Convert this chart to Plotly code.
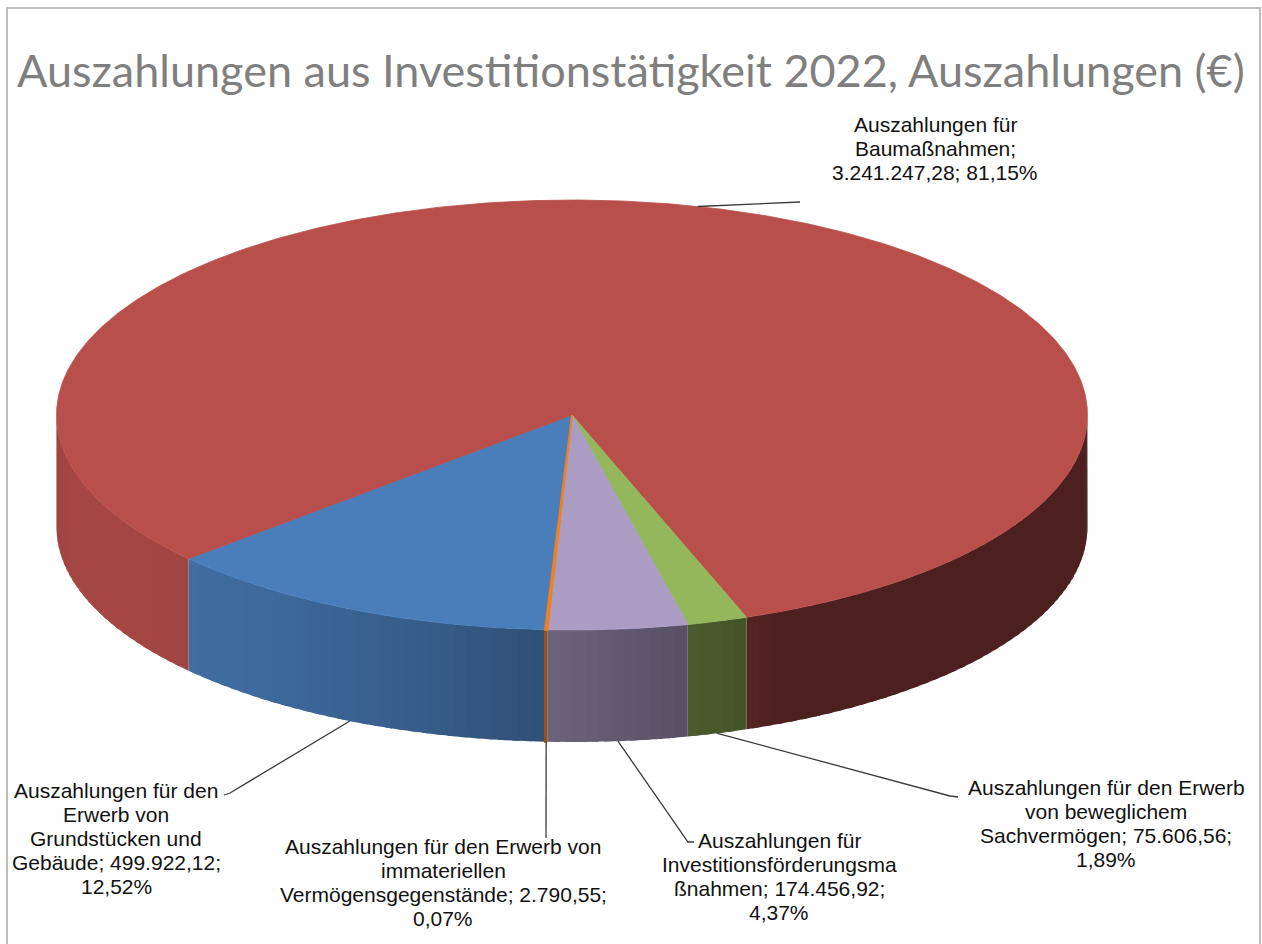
import math
import plotly.graph_objects as go

# ---------------- data ----------------
categories = [
    "Auszahlungen für den Erwerb von Grundstücken und Gebäude",
    "Auszahlungen für Baumaßnahmen",
    "Auszahlungen für den Erwerb von beweglichem Sachvermögen",
    "Auszahlungen für Investitionsförderungsmaßnahmen",
    "Auszahlungen für den Erwerb von immateriellen Vermögensgegenstände",
]
values = [499922.12, 3241247.28, 75606.56, 174456.92, 2790.55]
# wrapped label names (as wrapped in the chart, "|" = line break)
label_names = [
    "Auszahlungen für den|Erwerb von|Grundstücken und|Gebäude",
    "Auszahlungen für|Baumaßnahmen",
    "Auszahlungen für den Erwerb|von beweglichem|Sachvermögen",
    "Auszahlungen für|Investitionsförderungsma|ßnahmen",
    "Auszahlungen für den Erwerb von|immateriellen|Vermögensgegenstände",
]
value_sep = [" ", "|", " ", " ", " "]
pct_sep = ["|", " ", "|", "|", "|"]
title_text = "Auszahlungen aus Investitionstätigkeit 2022, Auszahlungen (€)"

# ---------------- styles / layout ----------------
top_colors = [(74, 126, 187), (185, 79, 75), (147, 183, 90), (171, 156, 196), (240, 128, 31)]
label_pos = [(116, 790), (935, 124), (1106, 787), (779, 840), (443, 846)]
leader_anchor = ["bottom", "top", "bottom", "bottom", "bottom"]
leader_ends = [
    [(230, 793), (224, 795)],
    [(800, 202)],
    [(950, 796), (958, 797)],
    [(688, 842), (694, 842)],
    [(546, 838)],
]
W, H = 1262, 944
CX, CY, RX, RY, DEPTH = 572.0, 415.0, 515.5, 215.0, 112.0
START = 183.0
LINE_H = 24.2


def pt(theta, dy=0.0):
    t = math.radians(theta)
    return CX + RX * math.sin(t), CY - RY * math.cos(t) + dy


def shade(rgb, theta):
    f = 0.41 + 0.48 * max(0.0, math.cos(math.radians(theta - 245.0)))
    return "rgb(%d,%d,%d)" % tuple(int(round(c * f)) for c in rgb)


def de_num(v):
    s = f"{v:,.2f}"
    return s.replace(",", "X").replace(".", ",").replace("X", ".")


total = sum(values)
spans = [v / total * 360.0 for v in values]
bounds = []
a = START
for s in spans:
    bounds.append((a, a + s))
    a += s

fig = go.Figure()

# ---- side walls (front half only), shaded by angle ----
STEP = 1.5
for i, (a0, a1) in enumerate(bounds):
    n = max(1, int(math.ceil((a1 - a0) / STEP)))
    for k in range(n):
        t0 = a0 + (a1 - a0) * k / n
        t1 = a0 + (a1 - a0) * (k + 1) / n
        mid = ((t0 + t1) / 2.0) % 360.0
        if not (90.0 <= mid <= 270.0):
            continue
        # overlap into the next strip of the same slice to hide seams
        t1e = min(a1, t1 + 0.8)
        m = 4
        xs, ys = [], []
        for j in range(m + 1):
            x, y = pt(t0 + (t1e - t0) * j / m)
            xs.append(x); ys.append(y)
        for j in range(m, -1, -1):
            x, y = pt(t0 + (t1e - t0) * j / m, DEPTH)
            xs.append(x); ys.append(y)
        col = shade(top_colors[i], mid)
        lw = 2.0 if i == 4 else 0
        fig.add_trace(go.Scatter(
            x=xs, y=ys, mode="lines", fill="toself", fillcolor=col,
            line=dict(color=col, width=lw), hoverinfo="skip", showlegend=False))

# ---- top faces ----
for i, (a0, a1) in enumerate(bounds):
    n = max(2, int(math.ceil((a1 - a0) / 0.5)))
    xs, ys = [CX], [CY]
    for j in range(n + 1):
        x, y = pt(a0 + (a1 - a0) * j / n)
        xs.append(x); ys.append(y)
    xs.append(CX); ys.append(CY)
    col = "rgb(%d,%d,%d)" % top_colors[i]
    lw = 2.0 if i == 4 else 0.8
    fig.add_trace(go.Scatter(
        x=xs, y=ys, mode="lines", fill="toself", fillcolor=col,
        line=dict(color=col, width=lw), name=categories[i],
        text=f"{categories[i]}: {de_num(values[i])}", hoverinfo="text",
        showlegend=False))

# ---- leader lines and labels ----
for i, (a0, a1) in enumerate(bounds):
    mid = (a0 + a1) / 2.0
    sx, sy = pt(mid, DEPTH if leader_anchor[i] == "bottom" else 0.0)
    xs = [sx] + [p[0] for p in leader_ends[i]]
    ys = [sy] + [p[1] for p in leader_ends[i]]
    fig.add_trace(go.Scatter(x=xs, y=ys, mode="lines",
                             line=dict(color="#3a3a3a", width=1.3),
                             hoverinfo="skip", showlegend=False))
    pct = f"{values[i] / total * 100:.2f}".replace(".", ",") + "%"
    text = label_names[i] + ";" + value_sep[i] + de_num(values[i]) + ";" + pct_sep[i] + pct
    lx, ly = label_pos[i]
    for k, line in enumerate(text.split("|")):
        fig.add_annotation(x=lx, y=ly + k * LINE_H, xref="x", yref="y", text=line,
                           showarrow=False, xanchor="center", yanchor="middle",
                           font=dict(family="Liberation Sans, Arial, sans-serif",
                                     size=21, color="#111111"))

fig.add_annotation(x=631, y=70, xref="x", yref="y", text=title_text, showarrow=False,
                   xanchor="center", yanchor="middle",
                   font=dict(family="Lato, Carlito, sans-serif", size=45, color="#7f7f7f"))

fig.add_shape(type="rect", xref="x", yref="y", x0=7, y0=8, x1=1260, y1=960,
              line=dict(color="#bdbdbd", width=2), fillcolor="rgba(0,0,0,0)", layer="below")

fig.update_layout(
    width=W, height=H, margin=dict(l=0, r=0, t=0, b=0, pad=0),
    paper_bgcolor="white", plot_bgcolor="white",
    xaxis=dict(range=[0, W], visible=False, fixedrange=True),
    yaxis=dict(range=[H, 0], visible=False, fixedrange=True),
    showlegend=False,
)

fig.write_html("out.html", config={"displayModeBar": False},
               post_script="document.body.style.margin='0';document.body.style.overflow='hidden';")
